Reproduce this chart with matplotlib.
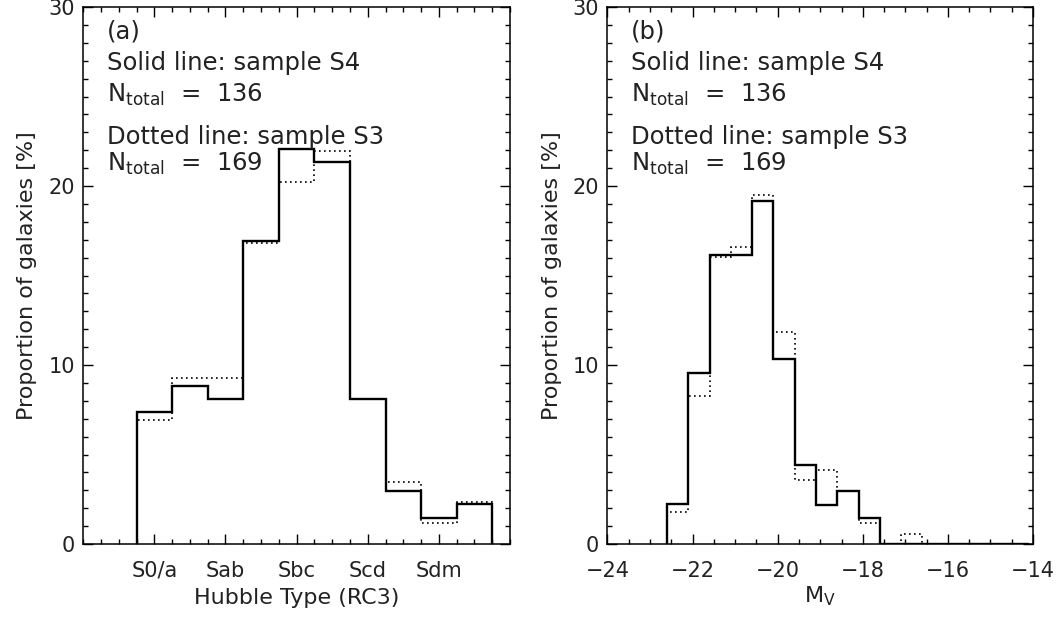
import numpy as np
import matplotlib
matplotlib.use("Agg")
import matplotlib.pyplot as plt
from matplotlib.ticker import MultipleLocator, FixedLocator

# Panel (a): Hubble type T = 0..9 (S0/a ... Sm), percent of galaxies
hubble_types = [0, 1, 2, 3, 4, 5, 6, 7, 8, 9]
type_s4 = [7.35, 8.82, 8.09, 16.91, 22.06, 21.32, 8.09, 2.94, 1.47, 2.21]
type_s3 = [6.92, 9.26, 9.26, 16.79, 20.23, 21.97, 8.09, 3.48, 1.15, 2.32]
type_ticks = [0, 2, 4, 6, 8]
type_labels = ["S0/a", "Sab", "Sbc", "Scd", "Sdm"]

# Panel (b): absolute magnitude M_V, bins of 0.5 mag starting at -22.6
mag_start = -22.6
mag_width = 0.5
mv_s4 = [2.21, 9.55, 16.17, 16.17, 19.15, 10.32, 4.42, 2.19, 2.96, 1.47,
         0, 0, 0, 0, 0, 0, 0]
mv_s3 = [1.77, 8.27, 16.02, 16.58, 19.52, 11.84, 3.57, 4.14, 2.96, 1.17,
         0, 0.56, 0, 0, 0, 0, 0]

FS_TICK = 15
FS_LABEL = 16
FS_TEXT = 17.5
TXT = "#222222"
DOT = (0, (1.0, 2.0))

plt.rcParams["font.family"] = "DejaVu Sans"
plt.rcParams["mathtext.fontset"] = "dejavusans"

fig = plt.figure(figsize=(10.62, 6.17), dpi=100)
ax1 = fig.add_axes([0.0784, 0.1183, 0.4018, 0.8703])
ax2 = fig.add_axes([0.5720, 0.1183, 0.4007, 0.8703])


def style_axes(ax):
    for s in ax.spines.values():
        s.set_linewidth(1.1)
    ax.tick_params(which="both", direction="in", top=True, right=True,
                   labelsize=FS_TICK, width=1.0, labelcolor=TXT)
    ax.tick_params(axis="x", pad=12)
    ax.tick_params(axis="y", pad=6)
    ax.tick_params(which="major", length=7.5)
    ax.tick_params(which="minor", length=3.8)
    ax.set_ylim(0, 30)
    ax.yaxis.set_major_locator(MultipleLocator(10))
    ax.yaxis.set_minor_locator(MultipleLocator(1))
    ax.set_ylabel("Proportion of galaxies [%]", fontsize=FS_LABEL,
                  labelpad=8, color=TXT)


def add_notes(ax, tag):
    kw = dict(transform=ax.transAxes, fontsize=FS_TEXT, va="center",
              ha="left", color=TXT)
    ax.text(0.056, 0.955, tag, **kw)
    ax.text(0.056, 0.895, "Solid line: sample S4", **kw)
    ax.text(0.056, 0.836, r"N$_{\rm total}$  =  136", **kw)
    ax.text(0.056, 0.758, "Dotted line: sample S3", **kw)
    ax.text(0.056, 0.708, r"N$_{\rm total}$  =  169", **kw)


# Panel (a)
t_edges = np.append(np.array(hubble_types) - 0.5, hubble_types[-1] + 0.5)
ax1.stairs(type_s3, t_edges, baseline=0, color="black", lw=1.2, linestyle=DOT)
ax1.stairs(type_s4, t_edges, baseline=0, color="black", lw=1.7)
ax1.set_xlim(-2, 10)
ax1.xaxis.set_major_locator(FixedLocator(type_ticks))
ax1.set_xticklabels(type_labels)
ax1.xaxis.set_minor_locator(MultipleLocator(0.5))
ax1.set_xlabel("Hubble Type (RC3)", fontsize=FS_LABEL, labelpad=5, color=TXT)
style_axes(ax1)
add_notes(ax1, "(a)")

# Panel (b)
m_edges = mag_start + mag_width * np.arange(len(mv_s4) + 1)
ax2.stairs(mv_s3, m_edges, baseline=0, color="black", lw=1.2, linestyle=DOT)
ax2.stairs(mv_s4, m_edges, baseline=0, color="black", lw=1.7)
ax2.set_xlim(-24, -14)
ax2.xaxis.set_major_locator(MultipleLocator(2))
ax2.xaxis.set_minor_locator(MultipleLocator(0.5))
ax2.set_xlabel(r"M$_{\rm V}$", fontsize=FS_LABEL, labelpad=3, color=TXT)
style_axes(ax2)
add_notes(ax2, "(b)")

fig.savefig("out.png", dpi=100)
